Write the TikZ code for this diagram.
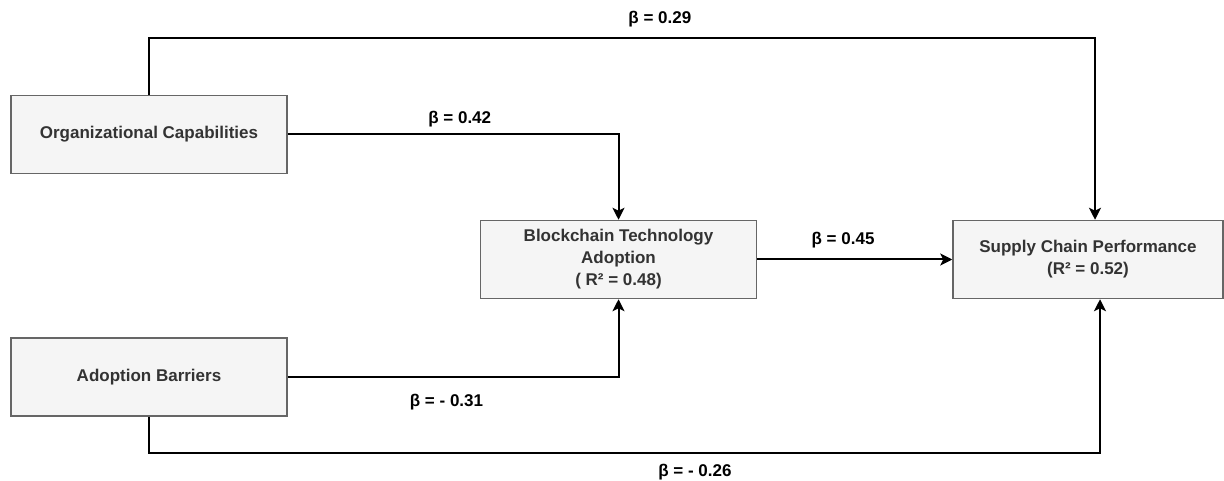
\documentclass[tikz,border=0pt]{standalone}
\usepackage{fontspec}
\setmainfont{Liberation Sans}
\usetikzlibrary{positioning,arrows.meta}
\definecolor{boxfill}{HTML}{F5F5F5}
\definecolor{boxline}{HTML}{666666}
\definecolor{boxtext}{HTML}{333333}

\begin{document}
\begin{tikzpicture}[x=1pt, y=1pt, every node/.style={font=\fontsize{17}{22}\selectfont\bfseries},
  box/.style={draw=boxline, line width=1.5pt, fill=boxfill, text=boxtext, minimum width=276pt, minimum height=78pt, align=center},
  link/.style={line width=2pt, -{Stealth[length=12pt,width=12pt,inset=3pt]}},
  beta/.style={inner sep=0pt}]
\useasboundingbox (0,0) rectangle (1224,480);
\node[box] (org) at (149,345.5) {Organizational Capabilities};
\node[box, below=163pt of org] (barr) {Adoption Barriers};
\node[box] (bta) at (618.5,220.5) {Blockchain Technology\\ Adoption\\ ( R² = 0.48)};
\node[box, minimum width=270pt, right=195pt of bta] (scp) {Supply Chain Performance\\ (R² = 0.52)};
\coordinate (top) at (0,442);
\coordinate (bot) at (0,27);
\draw[link] (org.north) -- (org.north |- top) -| ([xshift=7pt]scp.north) node[beta, above=10pt, pos=0.27] {β = 0.29};
\draw[link] (org.east) -| (bta.north) node[beta, above=6pt, pos=0.26] {β = 0.42};
\draw[link] (bta) -- (scp) node[beta, above=10pt, pos=0.44] {β = 0.45};
\draw[link] (barr.east) -| (bta.south) node[beta, below=16pt, pos=0.24] {β = - 0.31};
\draw[link] (barr.south) -- (barr.south |- bot) -| ([xshift=12pt]scp.south) node[beta, below=10pt, pos=0.287] {β = - 0.26};
\end{tikzpicture}
\end{document}
